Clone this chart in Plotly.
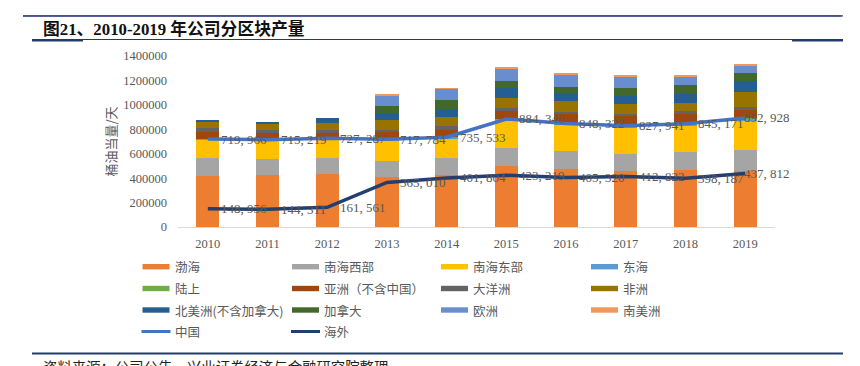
import plotly.graph_objects as go

# ---------------- data ----------------
years = ["2010", "2011", "2012", "2013", "2014", "2015", "2016", "2017", "2018", "2019"]

bohai     = [420000, 423000, 434000, 407000, 423000, 499000, 478000, 456000, 464000, 458000]
nh_west   = [146000, 137000, 131000, 137000, 142000, 145000, 144000, 142000, 148000, 172000]
nh_east   = [148000, 150000, 154000, 167000, 163000, 230000, 216000, 220000, 223000, 245000]
donghai   = [6000, 5000, 8000, 7000, 8000, 10000, 10000, 10000, 10000, 12000]
onshore   = [0, 0, 0, 0, 0, 0, 0, 0, 0, 6000]
asia      = [60000, 55000, 40000, 60000, 62000, 68000, 75000, 81000, 83000, 68000]
oceania   = [28000, 22000, 25000, 19000, 27000, 22000, 22000, 19000, 25000, 21000]
africa    = [58000, 55000, 60000, 76000, 76000, 79000, 84000, 82000, 65000, 120000]
n_america = [3000, 12000, 37000, 62000, 69000, 82000, 68000, 66000, 74000, 90000]
canada    = [0, 0, 0, 55000, 68000, 57000, 49000, 59000, 74000, 65000]
europe    = [0, 0, 0, 85000, 94000, 104000, 99000, 100000, 70000, 66000]
s_america = [0, 0, 0, 8000, 6000, 11000, 8000, 6000, 7000, 8000]

china    = [719966, 715219, 727287, 717784, 735533, 884346, 848322, 827941, 845171, 892928]
overseas = [148956, 144311, 161561, 365010, 401804, 423219, 405320, 412822, 398187, 437812]

bar_names = ["渤海", "南海西部", "南海东部", "东海", "陆上", "亚洲（不含中国）", "大洋洲", "非洲",
             "北美洲(不含加拿大)", "加拿大", "欧洲", "南美洲"]
bar_values = [bohai, nh_west, nh_east, donghai, onshore, asia, oceania, africa,
              n_america, canada, europe, s_america]
bar_colors = ["#ED7D31", "#A5A5A5", "#FFC000", "#5B9BD5", "#70AD47", "#9E480E", "#636363",
              "#997300", "#255E91", "#43682B", "#698ED0", "#F1975A"]
line_names = ["中国", "海外"]
line_values = [china, overseas]
line_colors = ["#4472C4", "#223F70"]

y_ticks = [0, 200000, 400000, 600000, 800000, 1000000, 1200000, 1400000]

# ---------------- geometry helpers ----------------
# the page body has an 8px default margin, so the figure is drawn 8px in from the corner
OFF = 8
W_FIG, H_FIG = 860 - OFF, 366 - OFF
# plot area in screen (reference) pixels
SL, SR, ST, SB = 178, 775, 56, 227
L, R, T, B = SL - OFF, SR - OFF, ST - OFF, SB - OFF
PW, PH = R - L, B - T


def px(x):
    """screen x pixel -> paper x"""
    return (x - OFF - L) / PW


def py(y):
    """screen y pixel -> paper y"""
    return (B - (y - OFF)) / PH


SERIF = "Liberation Serif, Times New Roman, Noto Sans CJK SC"
CJK = "Noto Sans CJK SC"
GREY = "#595959"

fig = go.Figure()

for name, vals, col in zip(bar_names, bar_values, bar_colors):
    fig.add_trace(go.Bar(x=years, y=vals, name=name, marker=dict(color=col, line=dict(width=0)),
                         showlegend=False))

for name, vals, col in zip(line_names, line_values, line_colors):
    fig.add_trace(go.Scatter(x=years, y=vals, name=name, mode="lines",
                             line=dict(color=col, width=3.5), showlegend=False))

annotations = []
shapes = []

# page rule near the top edge (shape + arrow-style annotation line as a fallback layer)
shapes.append(dict(type="rect", xref="paper", yref="paper", x0=px(23), x1=px(843),
                   y0=py(16.6), y1=py(15.2), layer="above",
                   fillcolor="#3C4A85", line=dict(width=0)))
annotations.append(dict(x=px(23), y=py(15.9), xref="paper", yref="paper", text=" ",
                        showarrow=True, arrowhead=0, arrowwidth=1.5, arrowcolor="#3C4A85",
                        ax=820, ay=0, standoff=0, startstandoff=0,
                        font=dict(size=1)))

# data labels (category axis -> use category index)
for vals in line_values:
    for i, v in enumerate(vals):
        annotations.append(dict(
            x=i, y=v, xref="x", yref="y", text=f"{v:,}".replace(",", ", "),
            showarrow=False, xanchor="left", yanchor="middle",
            xshift=11 if i < len(years) - 1 else -3,
            font=dict(family=SERIF, size=13, color=GREY)))

# y axis title
annotations.append(dict(x=px(110), y=py(141.5), xref="paper", yref="paper", text="桶油当量/天",
                        textangle=-90, showarrow=False, xanchor="center", yanchor="middle",
                        font=dict(family=CJK, size=13, color=GREY)))

# manual legend
legend_items = [(n, c, "bar") for n, c in zip(bar_names, bar_colors)] + \
               [(n, c, "line") for n, c in zip(line_names, line_colors)]
col_x = [142.5, 292, 441, 591]
row_y = [266.7, 288.5, 310, 331.5]
for i, (n, c, kind) in enumerate(legend_items):
    cx = col_x[i % 4]
    ry = row_y[i // 4]
    if kind == "bar":
        shapes.append(dict(type="rect", xref="paper", yref="paper",
                           x0=px(cx), x1=px(cx + 27), y0=py(ry + 2.7), y1=py(ry - 2.7),
                           fillcolor=c, line=dict(width=0)))
    else:
        shapes.append(dict(type="line", xref="paper", yref="paper",
                           x0=px(cx - 1), x1=px(cx + 28), y0=py(ry), y1=py(ry),
                           line=dict(color=c, width=3)))
    annotations.append(dict(x=px(cx + 30), y=py(ry), xref="paper", yref="paper", text=n,
                            showarrow=False, xanchor="left", yanchor="middle",
                            font=dict(family=CJK, size=12.5, color=GREY)))

# page decorations: header (mostly above the page edge), title, rules, source
annotations.append(dict(x=px(36), y=py(-12), xref="paper", yref="paper", text="海外公司深度研究报告",
                        showarrow=False, xanchor="left", yanchor="middle",
                        font=dict(family=CJK, size=23, color="#2E5597", weight="bold")))
annotations.append(dict(x=px(695), y=py(-4), xref="paper", yref="paper", text="INDUSTRIAL SECURITIES",
                        showarrow=False, xanchor="left", yanchor="middle",
                        font=dict(family="Liberation Sans", size=11, color="#8C8C8C")))
annotations.append(dict(x=px(41), y=py(29), xref="paper", yref="paper",
                        text="<b>图21、2010-2019 年公司分区块产量</b>",
                        showarrow=False, xanchor="left", yanchor="middle",
                        font=dict(family=SERIF, size=16.8, color="#111111")))
shapes.append(dict(type="line", xref="paper", yref="paper", x0=px(32), x1=px(843),
                   y0=py(39.5), y1=py(39.5), line=dict(color="#233A6E", width=1.2)))
shapes.append(dict(type="rect", xref="paper", yref="paper", x0=px(32), x1=px(83),
                   y0=py(41.5), y1=py(39), fillcolor="#233A6E", line=dict(width=0)))
shapes.append(dict(type="rect", xref="paper", yref="paper", x0=px(792), x1=px(843),
                   y0=py(41.5), y1=py(39), fillcolor="#233A6E", line=dict(width=0)))
shapes.append(dict(type="line", xref="paper", yref="paper", x0=px(32), x1=px(843),
                   y0=py(353.5), y1=py(353.5), line=dict(color="#233A6E", width=2)))
annotations.append(dict(x=px(41), y=py(366), xref="paper", yref="paper",
                        text="资料来源：公司公告，兴业证券经济与金融研究院整理",
                        showarrow=False, xanchor="left", yanchor="middle",
                        font=dict(family=CJK, size=14.4, color="#222222")))

fig.update_layout(
    width=W_FIG, height=H_FIG,
    margin=dict(l=L, r=W_FIG - R, t=T, b=H_FIG - B, pad=0),
    paper_bgcolor="white", plot_bgcolor="white",
    barmode="stack", bargap=0.61,
    showlegend=False,
    annotations=annotations, shapes=shapes,
    xaxis=dict(type="category", range=[-0.5, len(years) - 0.5], autorange=False,
               showgrid=False, showline=True, linecolor="#D9D9D9", linewidth=1,
               ticks="", tickfont=dict(family=SERIF, size=12.5, color=GREY),
               ticklabelstandoff=5, automargin=False, fixedrange=True),
    yaxis=dict(range=[0, 1400000], autorange=False, tickvals=y_ticks,
               ticktext=[str(v) for v in y_ticks],
               showgrid=False, zeroline=False, showline=False, ticks="",
               tickfont=dict(family=SERIF, size=12.5, color=GREY),
               ticklabelstandoff=10, automargin=False, fixedrange=True),
)

fig.write_html("out.html")
